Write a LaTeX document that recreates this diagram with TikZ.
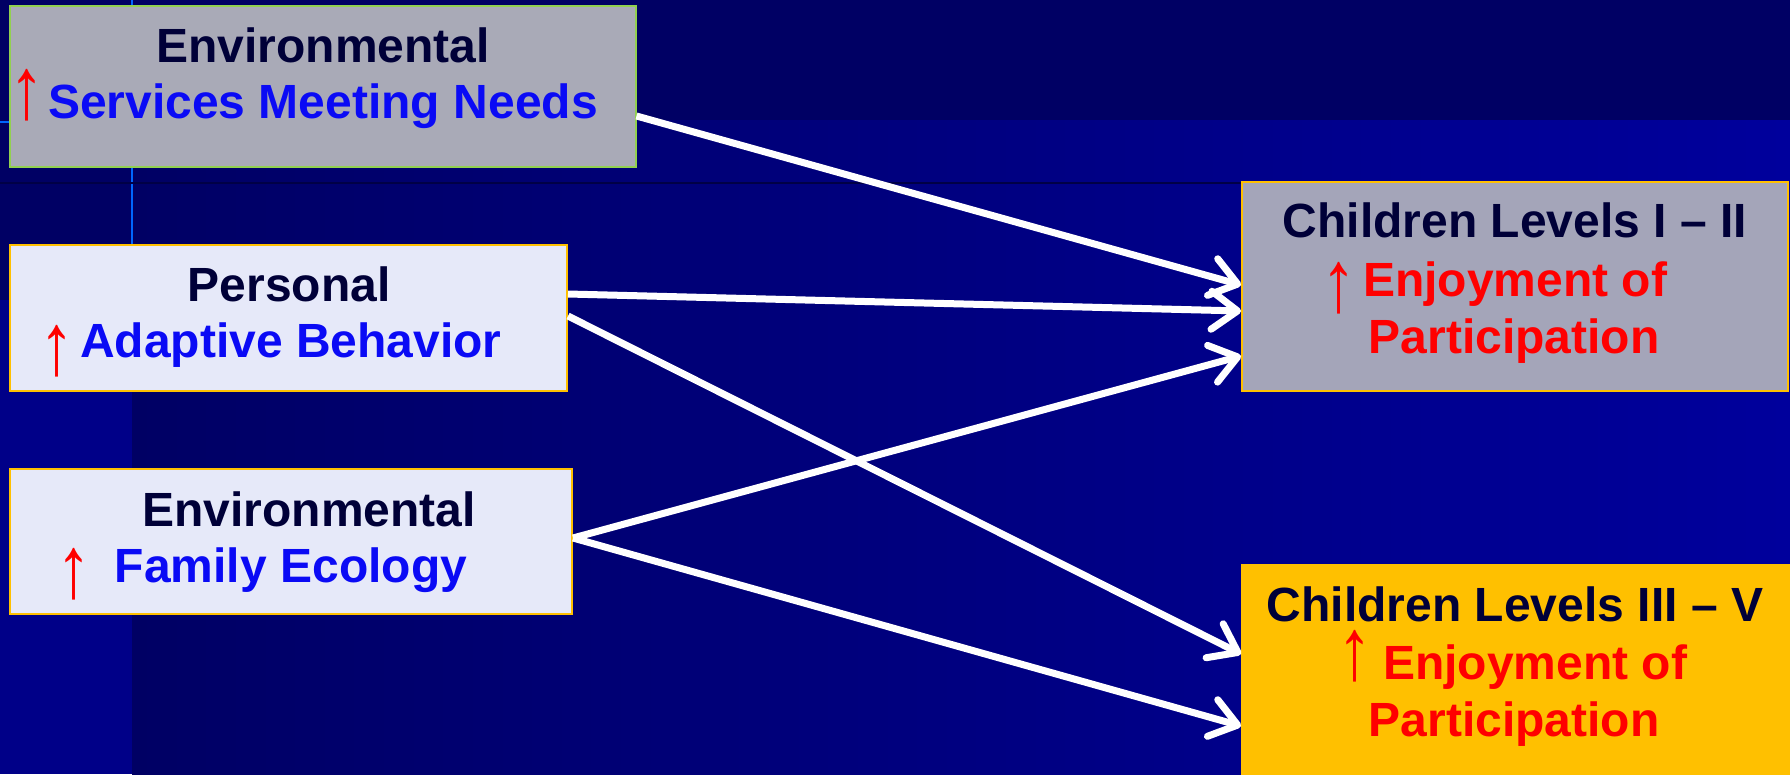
\documentclass[tikz,border=0pt]{standalone}
\usepackage{fontspec}
\setmainfont{Liberation Sans}
\usetikzlibrary{arrows.meta}
\definecolor{bgdark}{HTML}{000064}
\definecolor{bgright}{HTML}{00009C}
\definecolor{bgleft}{HTML}{000088}
\definecolor{navytxt}{HTML}{000038}
\definecolor{bluetxt}{HTML}{0A0AF5}
\definecolor{redtxt}{HTML}{FF0000}
\definecolor{grayfill}{HTML}{A9AAB7}
\definecolor{lightfill}{HTML}{E6E9F9}
\definecolor{ambr}{HTML}{FFC000}
\definecolor{greenedge}{HTML}{92D050}
\newcommand{\uparr}{\scalebox{1.4}[1.75]{↑}}
\tikzset{
  boxbase/.style={draw, line width=2pt, inner sep=0pt},
  graybox/.style={boxbase, fill=grayfill, draw=ambr},
  lightbox/.style={boxbase, fill=lightfill, draw=ambr},
  hd/.style={font=\fontsize{48}{56}\selectfont\bfseries, text=navytxt, inner sep=0pt, anchor=base},
  bl/.style={font=\fontsize{48}{56}\selectfont\bfseries, text=bluetxt, inner sep=0pt, anchor=base},
  rd/.style={font=\fontsize{48}{56}\selectfont\bfseries, text=redtxt, inner sep=0pt, anchor=base},
  up/.style={font=\fontsize{50}{56}\selectfont, text=redtxt, inner sep=0pt, anchor=base},
  conn/.style={draw=white, line width=7pt, -{Straight Barb[length=26pt, width=38pt, round]}}
}
\begin{document}
\begin{tikzpicture}[x=1pt, y=-1pt]
\useasboundingbox (0,0) rectangle (1790,774);
% background
\fill[bgdark] (0,0) rectangle (1790,774);
\shade[left color=bgdark, right color=bgright] (132,120) rectangle (1790,774);
\fill[bgleft] (0,300) rectangle (132,774);
\draw[color=blue!60!cyan, line width=2pt] (132,0) -- (132,245);
\draw[color=blue!60!cyan, line width=2pt] (0,122) -- (10,122);
\draw[color=bgdark!70!black, line width=1.5pt] (0,183) -- (1242,183);

% boxes
\node[graybox, draw=greenedge, minimum width=626pt, minimum height=161pt] (b1) at (322.5,86) {};
\node[lightbox, minimum width=557pt, minimum height=146pt] (b2) at (288.5,318) {};
\node[lightbox, minimum width=562pt, minimum height=145pt] (b3) at (291,541.5) {};
\node[graybox, fill=grayfill!97!blue, minimum width=546pt, minimum height=209pt] (b4) at (1515,286.5) {};
\node[boxbase, fill=ambr, draw=ambr, minimum width=548pt, minimum height=210pt] (b5) at (1516,670) {};

% texts
\node[hd] (t1a) at (323,62) {Environmental};
\node[up] (u1) at (27,118) {\uparr};
\node[bl] (t1b) at (323,118) {Services Meeting Needs};

\node[hd] (t2a) at (289,301) {Personal};
\node[up] (u2) at (57,374) {\uparr};
\node[bl] (t2b) at (291,357) {Adaptive Behavior};

\node[hd] (t3a) at (309,526) {Environmental};
\node[up] (u3) at (74,597) {\uparr};
\node[bl] (t3b) at (291,582) {Family Ecology};

\node[hd] (t4a) at (1515,237) {Children Levels I – II};
\node[up] (u4) at (1339,311) {\uparr};
\node[rd] (t4b) at (1515,296) {Enjoyment of};
\node[rd] (t4c) at (1514,353) {Participation};

\node[hd] (t5a) at (1515,621) {Children Levels III – V};
\node[up] (u5) at (1355,679) {\uparr};
\node[rd] (t5b) at (1535,679) {Enjoyment of};
\node[rd] (t5c) at (1514,736) {Participation};

% connectors
\draw[conn] ([yshift=-30pt]b1.east) -- ([yshift=1.5pt]b4.west);
\draw[conn] ([yshift=24pt]b2.east) -- ([yshift=-24.5pt]b4.west);
\draw[conn] ([yshift=2pt]b2.east) -- ([yshift=16pt]b5.west);
\draw[conn] ([yshift=3.5pt]b3.east) -- ([yshift=-69.5pt]b4.west);
\draw[conn] ([yshift=3.5pt]b3.east) -- ([yshift=-56pt]b5.west);
\end{tikzpicture}
\end{document}
